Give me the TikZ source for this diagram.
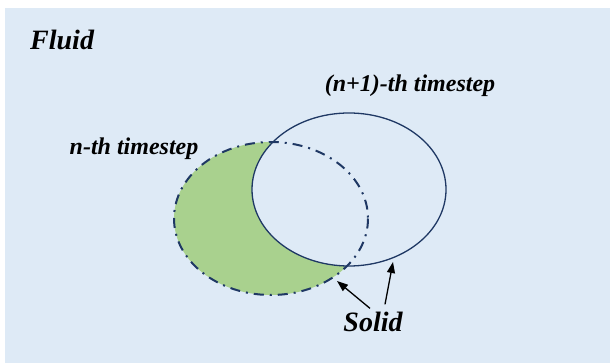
\documentclass[tikz,border=0pt]{standalone}
\usepackage{fontspec}
\setmainfont{Liberation Serif}
\usetikzlibrary{arrows.meta}

\definecolor{fluidbg}{HTML}{DEEAF6}
\definecolor{solidgreen}{HTML}{A9D18E}
\definecolor{edgenavy}{HTML}{1F3864}

\tikzset{
  steplabel/.style={font=\fontsize{24}{26}\selectfont\bfseries\itshape, inner sep=1pt},
  biglabel/.style={font=\fontsize{28}{30}\selectfont\bfseries\itshape, inner sep=1pt},
  oldbody/.style={draw=edgenavy, line width=2pt,
    dash pattern=on 10pt off 6pt on 2pt off 6pt},
  newbody/.style={draw=edgenavy, line width=1.3pt},
  solidarrow/.style={-{Triangle[length=11pt,width=8pt]}, line width=1.3pt}
}

\begin{document}
\begin{tikzpicture}[x=1pt, y=-1pt]
\useasboundingbox (0,0) rectangle (610,363);

% ── Fluid domain ─────────────────────────────────────────────
\fill[fluidbg] (5,8) rectangle (610,363);
\node[biglabel, anchor=base west] (fluid) at (29,50) {Fluid};

% ── Solid at n-th timestep (swept region in green) ───────────
\fill[solidgreen] (271,218.5) ellipse [x radius=97, y radius=76.5];

% ── Solid at (n+1)-th timestep ───────────────────────────────
\fill[fluidbg]    (349,189.5) ellipse [x radius=97, y radius=76.5];
\draw[newbody]    (349,189.5) ellipse [x radius=97, y radius=76.5];
\draw[oldbody]    (271,218.5) ellipse [x radius=97, y radius=76.5];

% ── Labels ──────────────────────────────────────────────────
\node[steplabel, anchor=base] (newstep) at (410,92) {(n+1)-th timestep};
\node[steplabel, anchor=base] (oldstep) at (134,155) {n-th timestep};
\node[biglabel, anchor=base] (solid) at (373,331) {Solid};

% ── Arrows: Solid -> both boundaries ────────────────────────
\coordinate (oldtip) at (337,281);
\coordinate (newtip) at (393,262);
\draw[solidarrow] ([xshift=-3pt, yshift=2pt]solid.north) -- (oldtip);
\draw[solidarrow] ([xshift=12pt, yshift=6pt]solid.north) -- (newtip);

\end{tikzpicture}
\end{document}
